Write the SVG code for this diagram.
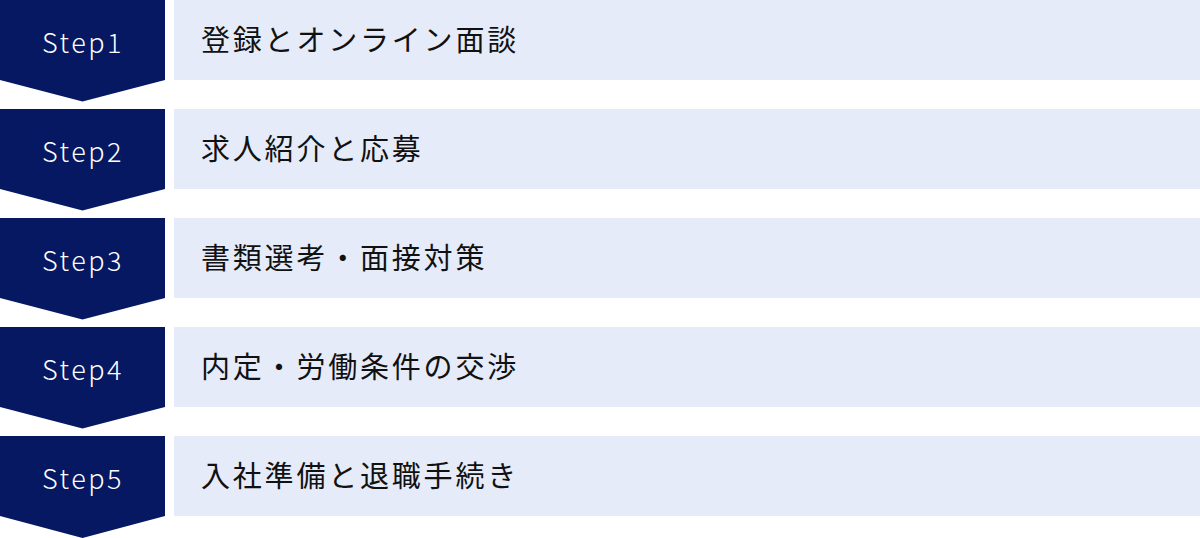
<svg xmlns="http://www.w3.org/2000/svg" width="1200" height="538" viewBox="0 0 1200 538">
<defs>
<style>
.chev{fill:#061862;}
.bar{fill:#e5ebf8;}
.step{font-family:"Noto Sans CJK JP","Noto Sans",sans-serif;font-size:27px;font-weight:300;fill:#ffffff;letter-spacing:2.5px;text-anchor:middle;}
.lbl{font-family:"Noto Sans CJK JP",sans-serif;font-size:29px;fill:#111111;letter-spacing:2.8px;}
</style>
</defs>
<rect width="1200" height="538" fill="#ffffff"/>
<g id="connectors"></g>
<g id="step1">
<polygon class="chev" points="0,0 165,0 165,80 82.5,101.5 0,80"/>
<rect class="bar" x="174" y="0" width="1026" height="80"/>
<text class="step" x="83" y="53">Step1</text>
<text class="lbl" x="201" y="51">登録とオンライン面談</text>
</g>
<g id="step2">
<polygon class="chev" points="0,109 165,109 165,189 82.5,210.5 0,189"/>
<rect class="bar" x="174" y="109" width="1026" height="80"/>
<text class="step" x="83" y="162">Step2</text>
<text class="lbl" x="201" y="160">求人紹介と応募</text>
</g>
<g id="step3">
<polygon class="chev" points="0,218 165,218 165,298 82.5,319.5 0,298"/>
<rect class="bar" x="174" y="218" width="1026" height="80"/>
<text class="step" x="83" y="271">Step3</text>
<text class="lbl" x="201" y="269">書類選考・面接対策</text>
</g>
<g id="step4">
<polygon class="chev" points="0,327 165,327 165,407 82.5,428.5 0,407"/>
<rect class="bar" x="174" y="327" width="1026" height="80"/>
<text class="step" x="83" y="380">Step4</text>
<text class="lbl" x="201" y="378">内定・労働条件の交渉</text>
</g>
<g id="step5">
<polygon class="chev" points="0,436 165,436 165,516 82.5,538 0,516"/>
<rect class="bar" x="174" y="436" width="1026" height="80"/>
<text class="step" x="83" y="489">Step5</text>
<text class="lbl" x="201" y="487">入社準備と退職手続き</text>
</g>
</svg>
